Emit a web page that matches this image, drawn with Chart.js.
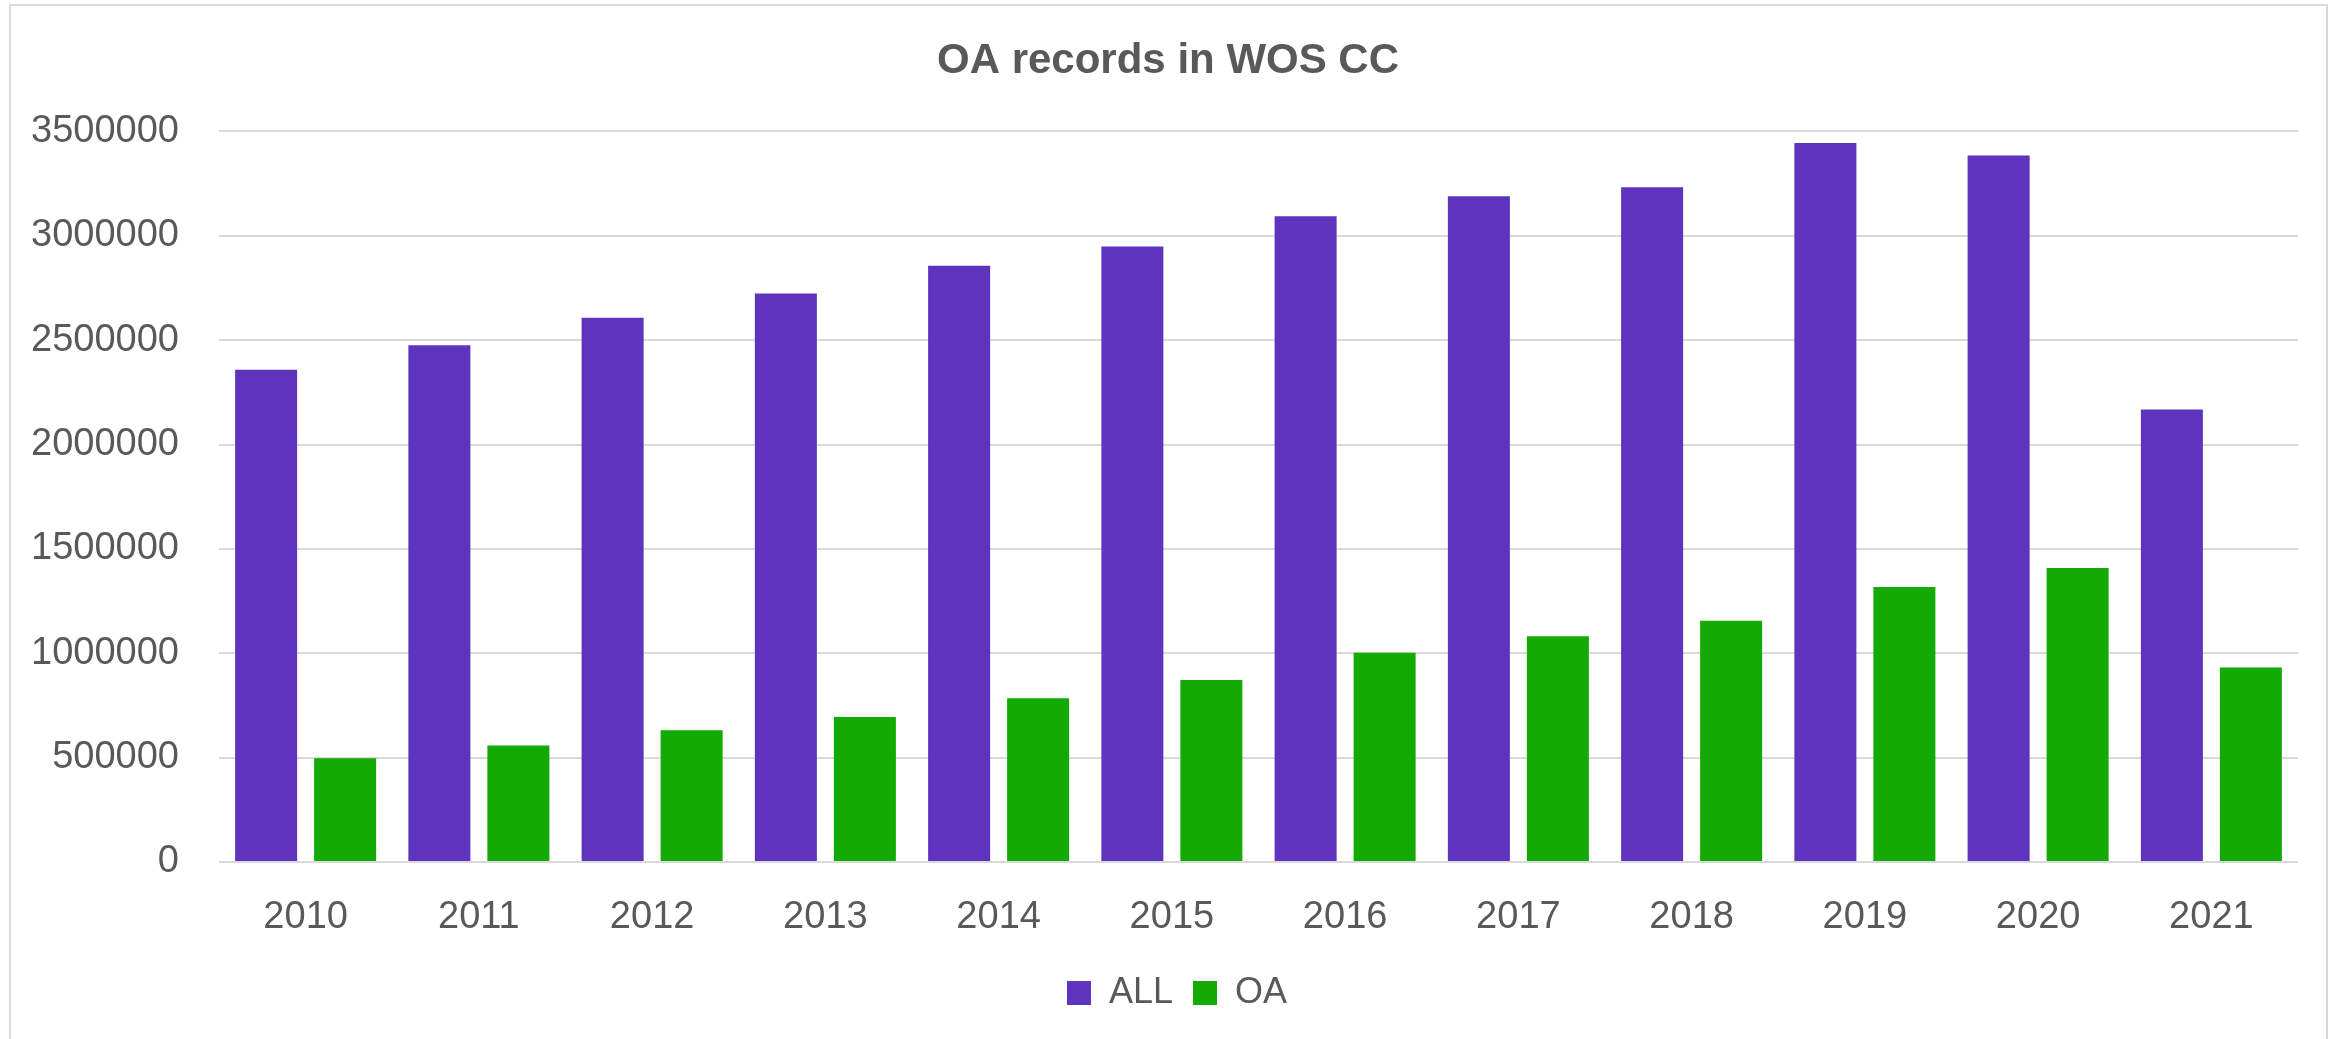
<!DOCTYPE html>
<html lang="en">

<head>
    <meta charset="UTF-8">
    <meta name="viewport" content="width=device-width, initial-scale=1.0">
    <title>OA records in WOS CC</title>
    <script src="https://cdn.jsdelivr.net/npm/chart.js"></script>
    <style>
        html,
        body {
            margin: 0;
            padding: 0;
            background: #ffffff;
            overflow: hidden;
        }

        #moldura {
            position: absolute;
            left: 9px;
            top: 4px;
            width: 2319px;
            height: 1100px;
            box-sizing: border-box;
            border: 2px solid #d9d9d9;
            pointer-events: none;
        }

        #myChartCanvas {
            position: absolute;
            left: 0;
            top: 0;
        }
    </style>
</head>

<body>
    <canvas id="myChartCanvas" width="2341" height="1039"></canvas>
    <div id="moldura"></div>
</body>

<script>
    // dados
    const anos = ["2010", "2011", "2012", "2013", "2014", "2015", "2016", "2017", "2018", "2019", "2020", "2021"];
    const todos = [2358000, 2476000, 2607000, 2723000, 2856000, 2949000, 3093000, 3189000, 3233000, 3445000, 3385000, 2168000];
    const abertos = [497000, 558000, 631000, 695000, 785000, 872000, 1002000, 1082000, 1156000, 1317000, 1408000, 932000];
    const ticksY = [0, 500000, 1000000, 1500000, 2000000, 2500000, 3000000, 3500000];

    Chart.defaults.font.family = "'Liberation Sans', Arial, sans-serif";
    Chart.defaults.color = '#595959';

    // empurra titulo e legenda um pouco para a direita, como no original
    const deslocarCaixas = {
        id: 'deslocarCaixas',
        afterLayout: function (chart) {
            if (chart.titleBlock) {
                chart.titleBlock.left += 19;
                chart.titleBlock.right += 19;
            }
            if (chart.legend) {
                chart.legend.left += 28;
                chart.legend.right += 28;
            }
        }
    };

    let dados = {
        labels: anos,
        datasets: [{
            label: 'ALL',
            data: todos,
            backgroundColor: '#5e33be',
            borderWidth: 0,
            barPercentage: 0.785,
            categoryPercentage: 0.912
        },
        {
            label: 'OA',
            data: abertos,
            backgroundColor: '#14aa04',
            borderWidth: 0,
            barPercentage: 0.785,
            categoryPercentage: 0.912
        }]
    };

    const config = {
        type: 'bar',
        data: dados,
        plugins: [deslocarCaixas],
        options: {
            responsive: false,
            animation: false,
            layout: {
                padding: { left: 0, right: 43, top: 0, bottom: 18 }
            },
            plugins: {
                title: {
                    display: true,
                    text: 'OA records in WOS CC',
                    color: '#595959',
                    font: { size: 42, weight: 'bold' },
                    padding: { top: 36, bottom: 45 }
                },
                legend: {
                    position: 'bottom',
                    labels: {
                        color: '#595959',
                        font: { size: 36 },
                        boxWidth: 24,
                        boxHeight: 24,
                        padding: 20
                    }
                },
                tooltip: { enabled: false }
            },
            scales: {
                x: {
                    grid: { display: false, drawTicks: false },
                    border: { display: false },
                    ticks: {
                        color: '#595959',
                        font: { size: 38 },
                        padding: 33
                    },
                    afterFit: function (escala) {
                        escala.height = 93;
                    }
                },
                y: {
                    min: 0,
                    max: 3500000,
                    grid: { color: '#d9d9d9', lineWidth: 2, drawTicks: false },
                    border: { display: false },
                    afterBuildTicks: function (escala) {
                        escala.ticks = ticksY.map(v => ({ value: v }));
                    },
                    ticks: {
                        color: '#595959',
                        font: { size: 38 },
                        padding: 40,
                        callback: function (valor) {
                            return String(valor);
                        }
                    },
                    afterFit: function (escala) {
                        escala.width = 219;
                    }
                }
            }
        }
    };

    let myChart = new Chart(
        document.getElementById('myChartCanvas'),
        config
    );
</script>

</html>
